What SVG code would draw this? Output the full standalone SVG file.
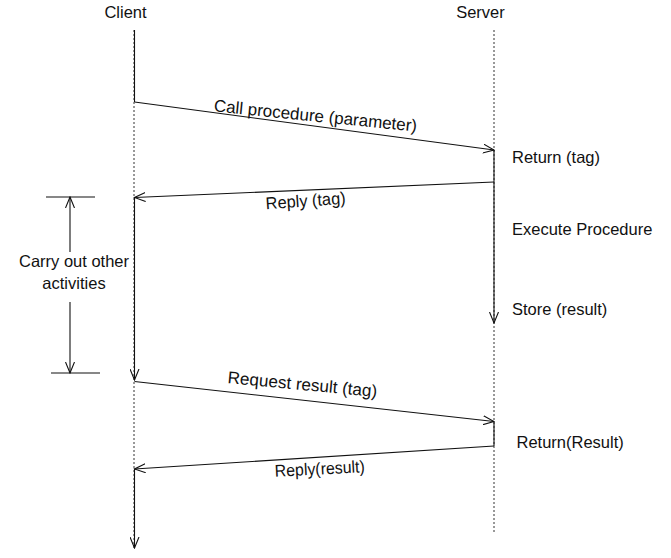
<svg xmlns="http://www.w3.org/2000/svg" width="671" height="558" viewBox="0 0 671 558">
<style>
text{font-family:"Liberation Sans",Arial,sans-serif;font-size:16.5px;fill:#111}
.msg{font-size:17px}
.s{stroke:#111;stroke-width:1.1;fill:none}
.d{stroke:#333;stroke-width:1;stroke-dasharray:2,2;fill:none}
</style>
<defs>
<marker id="arr" viewBox="0 0 12 10" refX="11" refY="5" markerWidth="12" markerHeight="10" markerUnits="userSpaceOnUse" orient="auto">
<path d="M0,0.5 L11,5 L0,9.5" fill="none" stroke="#111" stroke-width="1.1"/>
</marker>
</defs>
<rect width="671" height="558" fill="#fff"/>
<g id="client">
<text x="125.5" y="18" text-anchor="middle">Client</text>
<line class="d" x1="134" y1="30" x2="134" y2="548"/>
<line class="s" x1="134.5" y1="30" x2="134.5" y2="102"/>
<line class="s" x1="134.5" y1="198" x2="134.5" y2="380" marker-end="url(#arr)"/>
<line class="s" x1="134.5" y1="469" x2="134.5" y2="548" marker-end="url(#arr)"/>
</g>
<g id="server">
<text x="480.5" y="18" text-anchor="middle">Server</text>
<line class="d" x1="494" y1="30" x2="494" y2="532"/>
<line class="s" x1="494" y1="150" x2="494" y2="323" marker-end="url(#arr)"/>
<line class="s" x1="494" y1="422" x2="494" y2="446"/>
<text x="512" y="163">Return (tag)</text>
<text x="512" y="235">Execute Procedure</text>
<text x="512" y="315">Store (result)</text>
<text x="516.5" y="447.5">Return(Result)</text>
</g>
<g id="activities">
<line class="s" x1="46" y1="197" x2="95" y2="197"/>
<line class="s" x1="51" y1="373" x2="100" y2="373"/>
<line class="s" x1="70" y1="252" x2="70" y2="197" marker-end="url(#arr)"/>
<line class="s" x1="70" y1="302" x2="70" y2="373" marker-end="url(#arr)"/>
<text x="74" y="267" text-anchor="middle">Carry out other</text>
<text x="74" y="289" text-anchor="middle">activities</text>
</g>
<g id="connectors">
<line class="s" x1="134.5" y1="102" x2="494" y2="150" marker-end="url(#arr)"/>
<line class="s" x1="494" y1="182" x2="134.5" y2="197.5" marker-end="url(#arr)"/>
<line class="s" x1="134.5" y1="381.5" x2="494" y2="421.5" marker-end="url(#arr)"/>
<line class="s" x1="494" y1="446" x2="134.5" y2="469" marker-end="url(#arr)"/>
<text class="msg" x="315" y="121.5" text-anchor="middle" textLength="204" lengthAdjust="spacingAndGlyphs" transform="rotate(5.7 315 121.5)">Call procedure (parameter)</text>
<text class="msg" x="306" y="206.5" text-anchor="middle" textLength="80" lengthAdjust="spacingAndGlyphs" transform="rotate(-4 306 206.5)">Reply (tag)</text>
<text class="msg" x="302" y="390" text-anchor="middle" textLength="150" lengthAdjust="spacingAndGlyphs" transform="rotate(5.3 302 390)">Request result (tag)</text>
<text class="msg" x="320" y="474.5" text-anchor="middle" textLength="90" lengthAdjust="spacingAndGlyphs" transform="rotate(-3 320 474.5)">Reply(result)</text>
</g>
</svg>
